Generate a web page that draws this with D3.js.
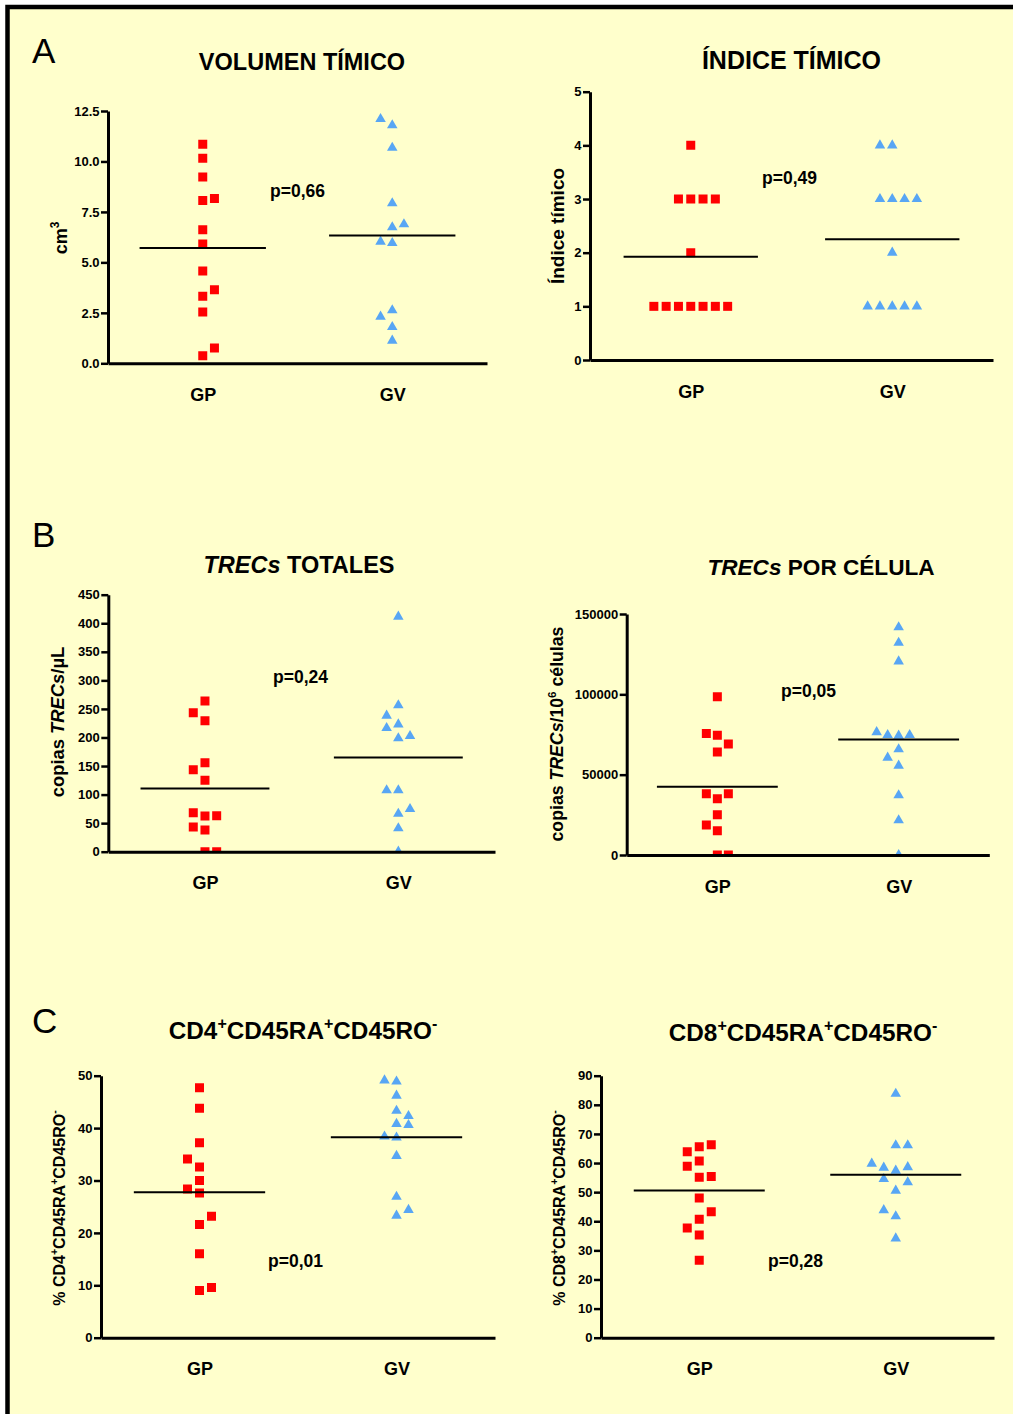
<!DOCTYPE html>
<html>
<head>
<meta charset="utf-8">
<script src="https://cdn.jsdelivr.net/npm/d3@7"></script>
<style>
  html, body { margin: 0; padding: 0; background: #ffffff; }
  svg { display: block; font-family: "Liberation Sans", Arial, sans-serif; }
</style>
</head>
<body>
<svg id="fig" width="1013" height="1414"></svg>
<script>
// ---- groups ----
const groups = ["GP", "GV"];

// ---- A: thymic volume (cm3) ----
const volumenGP = [10.85, 10.16, 9.23, 8.06, 8.16, 6.62, 5.91, 4.57, 3.65, 3.32, 2.54, 0.76, 0.38];
const volumenGV = [12.1, 11.79, 10.68, 7.93, 6.89, 6.74, 6.03, 5.96, 2.63, 2.31, 1.80, 1.12];
// column offset of each point inside its scatter column (in symbol slots)
const volumenGPcol = [0, 0, 0, 0, 1, 0, 0, 0, 1, 0, 0, 1, 0];
const volumenGVcol = [-1, 0, 0, 0, 1, 0, -1, 0, 0, -1, 0, 0];
const volumenTicks = [0, 2.5, 5, 7.5, 10, 12.5];

// ---- A: thymic index ----
const indiceGP = [4, 3, 3, 3, 3, 2, 1, 1, 1, 1, 1, 1, 1];
const indiceGV = [4, 4, 3, 3, 3, 3, 2, 1, 1, 1, 1, 1];
const indiceGPcol = [0, -1, 0, 1, 2, 0, -3, -2, -1, 0, 1, 2, 3];
const indiceGVcol = [-1, 0, -1, 0, 1, 2, 0, -2, -1, 0, 1, 2];
const indiceTicks = [0, 1, 2, 3, 4, 5];

// ---- B: total TRECs (copies/µL) ----
const trecTotGP = [263.9, 243.4, 229.4, 155.8, 143.6, 125, 68.3, 63, 62.5, 43.2, 38, 0, 0];
const trecTotGV = [411.5, 256.3, 238.2, 223, 216.6, 202.6, 198.5, 107.5, 107.5, 74.8, 66.5, 41, 0];
const trecTotGPcol = [0, -1, 0, 0, -1, 0, -1, 1, 0, -1, 0, 0, 1];
const trecTotGVcol = [0, 0, -1, 0, -1, 1, 0, -1, 0, 1, 0, 0, 0];
const trecTotTicks = [0, 50, 100, 150, 200, 250, 300, 350, 400, 450];

// ---- B: TRECs per 10^6 cells ----
const trecCelGP = [98500, 75700, 74500, 69100, 64100, 38200, 38200, 35000, 25100, 18700, 15100, 0, 0];
const trecCelGV = [141700, 132100, 120500, 76500, 74700, 74300, 74700, 65800, 60600, 55600, 37200, 21600, 0];
const trecCelGPcol = [0, -1, 0, 1, 0, -1, 1, 0, 0, -1, 0, 0, 1];
const trecCelGVcol = [0, 0, 0, -2, -1, 0, 1, 0, -1, 0, 0, 0, 0];
const trecCelTicks = [0, 50000, 100000, 150000];

// ---- C: % CD4+CD45RA+CD45RO- ----
const cd4GP = [47.7, 43.8, 37.2, 34.1, 32.6, 30.0, 28.4, 27.6, 23.2, 21.6, 16.0, 9.6, 9.0];
const cd4GV = [49.1, 48.9, 46.2, 43.3, 42.3, 40.8, 40.6, 38.4, 38.2, 34.7, 26.9, 24.4, 23.3];
const cd4GPcol = [0, 0, 0, -1, 0, 0, -1, 0, 1, 0, 0, 1, 0];
const cd4GVcol = [-1, 0, 0, 0, 1, 0, 1, -1, 0, 0, 0, 1, 0];
const cd4Ticks = [0, 10, 20, 30, 40, 50];

// ---- C: % CD8+CD45RA+CD45RO- ----
const cd8GP = [66.3, 65.6, 63.9, 60.7, 58.9, 55.4, 55.1, 48.0, 43.3, 40.7, 37.7, 35.3, 26.6];
const cd8GV = [83.8, 66.1, 66.1, 59.8, 58.6, 58.4, 57.4, 54.5, 53.4, 50.5, 43.8, 41.7, 34.1];
const cd8GPcol = [1, 0, -1, 0, -1, 1, 0, 0, 1, 0, -1, 0, 0];
const cd8GVcol = [0, 0, 1, -2, 1, -1, 0, -1, 1, 0, -1, 0, 0];
const cd8Ticks = [0, 10, 20, 30, 40, 50, 60, 70, 80, 90];

// ---- statistics shown on each panel ----
const pLabels = ["p=0,66", "p=0,49", "p=0,24", "p=0,05", "p=0,01", "p=0,28"];

// ---- colours ----
const RED = "#FF0000";
const BLUE = "#58A6F4";
const BG = "#FFFFCC";

// ---- panel definitions (layout + references to the arrays above) ----
const panels = [
  { gp: volumenGP, gv: volumenGV, gpCol: volumenGPcol, gvCol: volumenGVcol,
    ticks: volumenTicks, fmt: d3.format(".1f"),
    box: { x0: 108, x1: 487, yTop: 111, yBot: 363.3 }, slot: 11.7,
    title: [{ t: "VOLUMEN TÍMICO" }], titleX: 302, titleY: 70, titleSize: 23.5,
    ylab: [{ t: "cm" }, { t: "3", sup: true }], ylabX: 67, ylabY: 238, ylabSize: 18,
    p: pLabels[0], pX: 270, pY: 197 },
  { gp: indiceGP, gv: indiceGV, gpCol: indiceGPcol, gvCol: indiceGVcol,
    ticks: indiceTicks, fmt: d3.format("d"),
    box: { x0: 590, x1: 993, yTop: 91.7, yBot: 360 }, slot: 12.3,
    title: [{ t: "ÍNDICE TÍMICO" }], titleX: 791.5, titleY: 69, titleSize: 25,
    ylab: [{ t: "Índice tímico" }], ylabX: 564, ylabY: 226, ylabSize: 19,
    p: pLabels[1], pX: 762, pY: 184 },
  { gp: trecTotGP, gv: trecTotGV, gpCol: trecTotGPcol, gvCol: trecTotGVcol,
    ticks: trecTotTicks, fmt: d3.format("d"),
    box: { x0: 108.3, x1: 495, yTop: 594.7, yBot: 851.7 }, slot: 11.7,
    title: [{ t: "TRECs", it: true }, { t: " TOTALES" }], titleX: 299, titleY: 573, titleSize: 23.5,
    ylab: [{ t: "copias " }, { t: "TRECs", it: true }, { t: "/µL" }], ylabX: 64, ylabY: 722, ylabSize: 18.4,
    p: pLabels[2], pX: 273, pY: 683 },
  { gp: trecCelGP, gv: trecCelGV, gpCol: trecCelGPcol, gvCol: trecCelGVcol,
    ticks: trecCelTicks, fmt: d3.format("d"),
    box: { x0: 626.7, x1: 989.3, yTop: 614, yBot: 855 }, slot: 11,
    title: [{ t: "TRECs", it: true }, { t: " POR CÉLULA" }], titleX: 821, titleY: 575, titleSize: 22.6,
    ylab: [{ t: "copias " }, { t: "TRECs", it: true }, { t: "/10" }, { t: "6", sup: true }, { t: " células" }],
    ylabX: 563, ylabY: 734, ylabSize: 17.7,
    p: pLabels[3], pX: 781, pY: 697 },
  { gp: cd4GP, gv: cd4GV, gpCol: cd4GPcol, gvCol: cd4GVcol,
    ticks: cd4Ticks, fmt: d3.format("d"),
    box: { x0: 101, x1: 495, yTop: 1075.7, yBot: 1337.7 }, slot: 12,
    title: [{ t: "CD4" }, { t: "+", sup: true }, { t: "CD45RA" }, { t: "+", sup: true }, { t: "CD45RO" }, { t: "-", sup: true }],
    titleX: 303, titleY: 1039, titleSize: 24.3,
    ylab: [{ t: "% CD4" }, { t: "+", sup: true }, { t: "CD45RA" }, { t: "+", sup: true }, { t: "CD45RO" }, { t: "-", sup: true }],
    ylabX: 65, ylabY: 1208, ylabSize: 16,
    p: pLabels[4], pX: 268, pY: 1267 },
  { gp: cd8GP, gv: cd8GV, gpCol: cd8GPcol, gvCol: cd8GVcol,
    ticks: cd8Ticks, fmt: d3.format("d"),
    box: { x0: 601, x1: 994, yTop: 1075.7, yBot: 1337.7 }, slot: 12,
    title: [{ t: "CD8" }, { t: "+", sup: true }, { t: "CD45RA" }, { t: "+", sup: true }, { t: "CD45RO" }, { t: "-", sup: true }],
    titleX: 803, titleY: 1041, titleSize: 24.3,
    ylab: [{ t: "% CD8" }, { t: "+", sup: true }, { t: "CD45RA" }, { t: "+", sup: true }, { t: "CD45RO" }, { t: "-", sup: true }],
    ylabX: 565, ylabY: 1208, ylabSize: 16,
    p: pLabels[5], pX: 768, pY: 1267 }
];

const panelLetters = [
  { t: "A", y: 63 }, { t: "B", y: 547 }, { t: "C", y: 1033 }
];

const svg = d3.select("#fig");

// framed background
svg.append("rect")
  .attr("x", 7.5).attr("y", 7)
  .attr("width", 1200).attr("height", 1600)
  .attr("fill", BG).attr("stroke", "#000").attr("stroke-width", 4.5);

// panel letters
svg.selectAll("text.letter").data(panelLetters).join("text")
  .attr("class", "letter")
  .attr("x", 32).attr("y", d => d.y)
  .attr("font-size", 35).attr("fill", "#000")
  .text(d => d.t);

// writes a sequence of styled runs (italic / superscript) into a text element
function richText(textSel, parts, size) {
  parts.forEach((p, i) => {
    const ts = textSel.append("tspan").text(p.t);
    if (p.it) ts.attr("font-style", "italic");
    if (p.sup) {
      ts.attr("font-size", size * 0.66).attr("dy", -size * 0.42);
    } else if (i > 0 && parts[i - 1].sup) {
      ts.attr("dy", size * 0.42);
    }
  });
}

const squareSym = d3.symbol().type(d3.symbolSquare).size(81);
const triangleSym = d3.symbol().type(d3.symbolTriangle).size(48);

panels.forEach((P, idx) => {
  const { x0, x1, yTop, yBot } = P.box;
  const g = svg.append("g");

  const x = d3.scalePoint().domain(groups).range([x0, x1]).padding(0.5);
  const y = d3.scaleLinear().domain([0, d3.max(P.ticks)]).range([yBot, yTop]);
  const slotX = d3.scaleLinear().domain([0, 1]).range([0, P.slot]);

  // clip the symbols to the plotting area (values at zero are half hidden)
  const clipId = "clip" + idx;
  svg.append("clipPath").attr("id", clipId)
    .append("rect")
    .attr("x", x0).attr("y", yTop - 30)
    .attr("width", x1 - x0).attr("height", yBot - yTop + 30);

  const pts = g.append("g").attr("clip-path", `url(#${clipId})`);

  const series = [
    { key: "GP", vals: P.gp, col: P.gpCol, sym: squareSym, color: RED },
    { key: "GV", vals: P.gv, col: P.gvCol, sym: triangleSym, color: BLUE }
  ];

  series.forEach(s => {
    pts.selectAll(null)
      .data(s.vals.map((v, i) => ({ v, c: s.col[i] })))
      .join("path")
      .attr("d", s.sym())
      .attr("fill", s.color)
      .attr("transform", d => `translate(${x(s.key) + slotX(d.c)},${y(d.v)})`);
  });

  // mean line of each group
  const halfLen = (x1 - x0) / 6;
  series.forEach(s => {
    const m = d3.mean(s.vals);
    g.append("line")
      .attr("x1", x(s.key) - halfLen).attr("x2", x(s.key) + halfLen)
      .attr("y1", y(m)).attr("y2", y(m))
      .attr("stroke", "#000").attr("stroke-width", 2);
  });

  // y axis
  const yAxis = g.append("g")
    .attr("transform", `translate(${x0},0)`)
    .call(d3.axisLeft(y).tickValues(P.ticks).tickFormat(P.fmt)
      .tickSize(7).tickSizeOuter(0).tickPadding(1.5));
  yAxis.select(".domain").attr("stroke-width", 3);
  yAxis.selectAll(".tick line").attr("stroke-width", 2.5);
  yAxis.selectAll(".tick text")
    .attr("font-size", 13).attr("font-weight", "bold")
    .attr("font-family", "Liberation Sans, Arial, sans-serif").attr("fill", "#000");

  // x axis
  const xAxis = g.append("g")
    .attr("transform", `translate(0,${yBot})`)
    .call(d3.axisBottom(x).tickSize(0).tickSizeOuter(0).tickPadding(25));
  xAxis.select(".domain").attr("stroke-width", 3);
  xAxis.selectAll(".tick text")
    .attr("font-size", 18).attr("font-weight", "bold")
    .attr("font-family", "Liberation Sans, Arial, sans-serif").attr("fill", "#000");

  // title
  const title = g.append("text")
    .attr("x", P.titleX).attr("y", P.titleY)
    .attr("text-anchor", "middle")
    .attr("font-size", P.titleSize).attr("font-weight", "bold");
  richText(title, P.title, P.titleSize);

  // y-axis label
  const yl = g.append("text")
    .attr("transform", `translate(${P.ylabX},${P.ylabY}) rotate(-90)`)
    .attr("text-anchor", "middle")
    .attr("font-size", P.ylabSize).attr("font-weight", "bold");
  richText(yl, P.ylab, P.ylabSize);

  // p value
  g.append("text")
    .attr("x", P.pX).attr("y", P.pY)
    .attr("font-size", 17.5).attr("font-weight", "bold")
    .text(P.p);
});
</script>
</body>
</html>
